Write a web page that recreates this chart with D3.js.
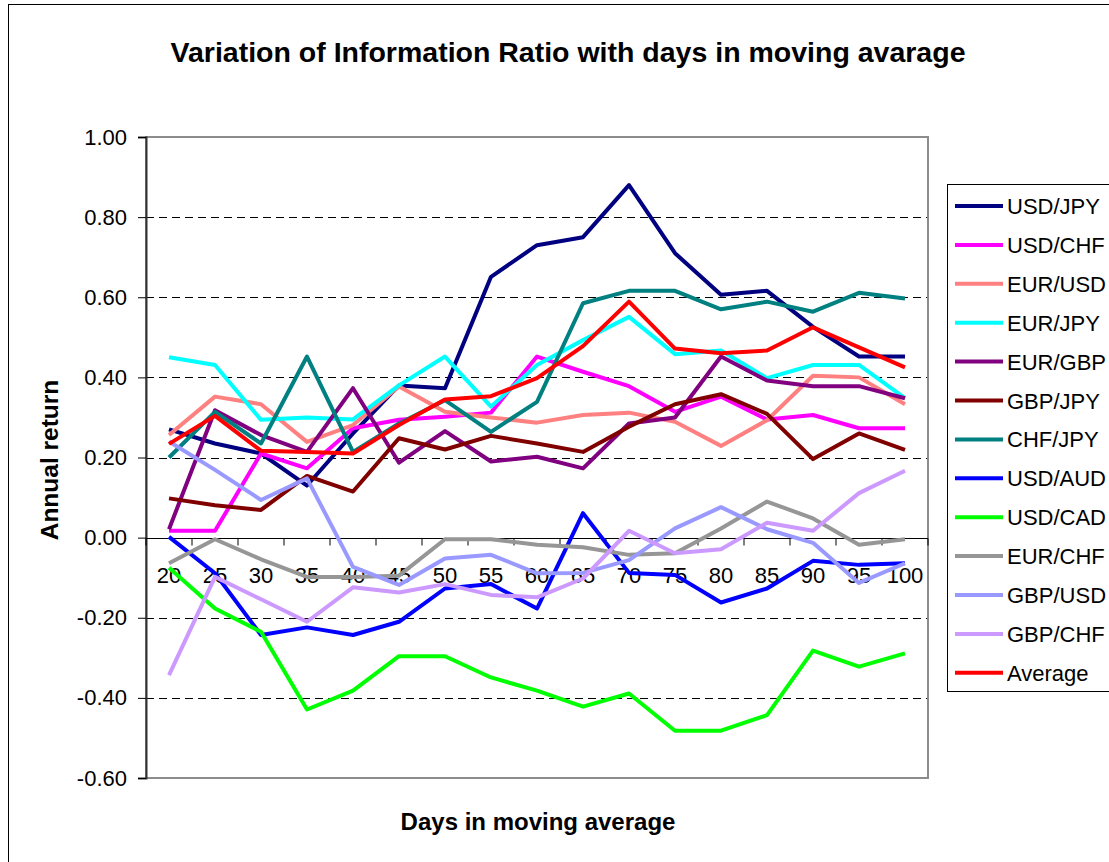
<!DOCTYPE html>
<html>
<head>
<meta charset="utf-8">
<script src="https://cdn.jsdelivr.net/npm/d3@7"></script>
<style>
  html, body { margin: 0; padding: 0; background: #fff; }
  svg { display: block; font-family: "Liberation Sans", Arial, sans-serif; }
</style>
</head>
<body>
<svg id="chart" width="1109" height="862"></svg>
<script>
// ---------- data ----------
const days = [20, 25, 30, 35, 40, 45, 50, 55, 60, 65, 70, 75, 80, 85, 90, 95, 100];
const yTicks = [-0.6, -0.4, -0.2, 0, 0.2, 0.4, 0.6, 0.8, 1.0];

const usdJpy = [0.27, 0.235, 0.21, 0.13, 0.26, 0.38, 0.373, 0.651, 0.73, 0.75, 0.88, 0.71, 0.606, 0.616, 0.526, 0.452, 0.452];
const usdChf = [0.017, 0.017, 0.21, 0.173, 0.273, 0.294, 0.302, 0.312, 0.452, 0.414, 0.378, 0.314, 0.352, 0.295, 0.306, 0.273, 0.273];
const eurUsd = [0.256, 0.352, 0.333, 0.239, 0.281, 0.377, 0.314, 0.30, 0.287, 0.306, 0.312, 0.289, 0.229, 0.293, 0.404, 0.40, 0.333];
const eurJpy = [0.45, 0.431, 0.294, 0.30, 0.295, 0.38, 0.452, 0.327, 0.431, 0.493, 0.551, 0.458, 0.467, 0.398, 0.431, 0.431, 0.348];
const eurGbp = [0.021, 0.318, 0.256, 0.214, 0.373, 0.187, 0.266, 0.19, 0.202, 0.173, 0.285, 0.30, 0.452, 0.392, 0.378, 0.378, 0.348];
const gbpJpy = [0.098, 0.081, 0.069, 0.154, 0.115, 0.248, 0.22, 0.254, 0.235, 0.214, 0.277, 0.333, 0.358, 0.309, 0.196, 0.26, 0.219];
const chfJpy = [0.20, 0.314, 0.235, 0.452, 0.214, 0.285, 0.343, 0.264, 0.339, 0.585, 0.616, 0.616, 0.57, 0.589, 0.564, 0.611, 0.597];
const usdAud = [0.002, -0.089, -0.243, -0.224, -0.243, -0.21, -0.127, -0.116, -0.177, 0.061, -0.088, -0.093, -0.162, -0.127, -0.058, -0.068, -0.064];
const usdCad = [-0.075, -0.177, -0.235, -0.429, -0.382, -0.296, -0.296, -0.349, -0.382, -0.422, -0.389, -0.482, -0.482, -0.443, -0.282, -0.322, -0.289];
const eurChf = [-0.064, -0.004, -0.054, -0.098, -0.098, -0.095, -0.004, -0.004, -0.018, -0.024, -0.043, -0.039, 0.023, 0.09, 0.048, -0.018, -0.004];
const gbpUsd = [0.24, 0.169, 0.094, 0.148, -0.073, -0.118, -0.052, -0.043, -0.089, -0.088, -0.056, 0.023, 0.076, 0.021, -0.013, -0.113, -0.064];
const gbpChf = [-0.343, -0.098, -0.154, -0.21, -0.124, -0.137, -0.116, -0.143, -0.149, -0.102, 0.017, -0.039, -0.029, 0.037, 0.017, 0.111, 0.167];
const average = [0.234, 0.304, 0.217, 0.214, 0.21, 0.281, 0.345, 0.353, 0.398, 0.478, 0.589, 0.472, 0.46, 0.467, 0.525, 0.475, 0.425];

const seriesNames = ["USD/JPY", "USD/CHF", "EUR/USD", "EUR/JPY", "EUR/GBP", "GBP/JPY", "CHF/JPY",
                     "USD/AUD", "USD/CAD", "EUR/CHF", "GBP/USD", "GBP/CHF", "Average"];
const seriesValues = [usdJpy, usdChf, eurUsd, eurJpy, eurGbp, gbpJpy, chfJpy,
                      usdAud, usdCad, eurChf, gbpUsd, gbpChf, average];
const seriesColors = ["#000080", "#FF00FF", "#FF8080", "#00FFFF", "#800080", "#800000", "#008080",
                      "#0000FF", "#00FF00", "#969696", "#9999FF", "#CC99FF", "#FF0000"];

const titleText = "Variation of Information Ratio with days in moving avarage";
const xTitle = "Days in moving average";
const yTitle = "Annual return";

// ---------- layout ----------
const svg = d3.select("#chart");
const plot = { left: 146, right: 928, top: 137, bottom: 778 };

const x = d3.scaleBand().domain(days).range([plot.left, plot.right]).padding(0);
const y = d3.scaleLinear().domain([-0.6, 1.0]).range([plot.bottom, plot.top]);
const cx = d => x(d) + x.bandwidth() / 2;
const fmt = d3.formatLocale({ decimal: ".", thousands: ",", grouping: [3], currency: ["", ""], minus: "-" }).format(".2f");

// outer chart border
svg.append("rect")
  .attr("x", 8.5).attr("y", 4.5).attr("width", 1300).attr("height", 1000)
  .attr("fill", "#fff").attr("stroke", "#000").attr("stroke-width", 1);

// title
svg.append("text")
  .attr("x", 568).attr("y", 62)
  .attr("text-anchor", "middle")
  .attr("font-size", 28.5).attr("font-weight", "bold")
  .text(titleText);

// gridlines
svg.append("g").selectAll("line")
  .data(yTicks.filter(v => v !== 0 && v !== 1.0 && v !== -0.6))
  .join("line")
  .attr("x1", plot.left).attr("x2", plot.right)
  .attr("y1", d => Math.round(y(d)) + 0.5).attr("y2", d => Math.round(y(d)) + 0.5)
  .attr("stroke", "#000").attr("stroke-width", 1).attr("stroke-dasharray", "8,5");

// plot border (gray)
svg.append("rect")
  .attr("x", plot.left).attr("y", plot.top)
  .attr("width", plot.right - plot.left).attr("height", plot.bottom - plot.top)
  .attr("fill", "none").attr("stroke", "#8c8c8c").attr("stroke-width", 2);

// y axis
const yAxis = svg.append("g")
  .attr("transform", `translate(${plot.left},0)`)
  .call(d3.axisLeft(y).tickValues(yTicks).tickFormat(fmt).tickSize(8).tickPadding(11));
yAxis.select(".domain").attr("stroke", "#333").attr("stroke-width", 2);
yAxis.selectAll(".tick line").attr("stroke", "#000");
yAxis.selectAll(".tick text").attr("font-size", 22).attr("fill", "#000")
  .attr("font-family", "'Liberation Sans', Arial, sans-serif");

// x axis at zero (labels)
const y0 = Math.round(y(0)) + 0.5;
const xAxis = svg.append("g")
  .attr("transform", `translate(0,${y0})`)
  .call(d3.axisBottom(x).tickSize(0).tickPadding(29));
xAxis.select(".domain").remove();
xAxis.selectAll(".tick text").attr("font-size", 22).attr("fill", "#000")
  .attr("font-family", "'Liberation Sans', Arial, sans-serif");
// zero line
svg.append("line")
  .attr("x1", plot.left).attr("x2", plot.right).attr("y1", y0).attr("y2", y0)
  .attr("stroke", "#000").attr("stroke-width", 1);
// boundary ticks between categories
const boundaries = days.map(d => x(d)).concat([x(days[days.length - 1]) + x.bandwidth()]);
svg.append("g").selectAll("line").data(boundaries).join("line")
  .attr("x1", d => d).attr("x2", d => d)
  .attr("y1", y0).attr("y2", y0 + 7)
  .attr("stroke", "#000").attr("stroke-width", 1);

// axis titles
svg.append("text")
  .attr("x", 538).attr("y", 830)
  .attr("text-anchor", "middle")
  .attr("font-size", 24).attr("font-weight", "bold")
  .text(xTitle);
svg.append("text")
  .attr("transform", "translate(58,460) rotate(-90)")
  .attr("text-anchor", "middle")
  .attr("font-size", 24.5).attr("font-weight", "bold")
  .text(yTitle);

// series lines
const line = d3.line().x((v, i) => cx(days[i])).y(v => y(v));
svg.append("g").selectAll("path")
  .data(seriesValues)
  .join("path")
  .attr("d", d => line(d))
  .attr("fill", "none")
  .attr("stroke", (d, i) => seriesColors[i])
  .attr("stroke-width", 4)
  .attr("stroke-linejoin", "round")
  .attr("stroke-linecap", "butt");

// legend
const legend = { x: 947, y: 184, h: 507, first: 206, step: 38.9 };
svg.append("rect")
  .attr("x", legend.x + 0.5).attr("y", legend.y + 0.5)
  .attr("width", 300).attr("height", legend.h)
  .attr("fill", "#fff").attr("stroke", "#000").attr("stroke-width", 1);
const items = svg.append("g").selectAll("g")
  .data(seriesNames)
  .join("g")
  .attr("transform", (d, i) => `translate(0,${legend.first + i * legend.step})`);
items.append("line")
  .attr("x1", 955).attr("x2", 1003).attr("y1", 0).attr("y2", 0)
  .attr("stroke", (d, i) => seriesColors[i]).attr("stroke-width", 4);
items.append("text")
  .attr("x", 1007).attr("y", 8)
  .attr("font-size", 22)
  .text(d => d);
</script>
</body>
</html>
